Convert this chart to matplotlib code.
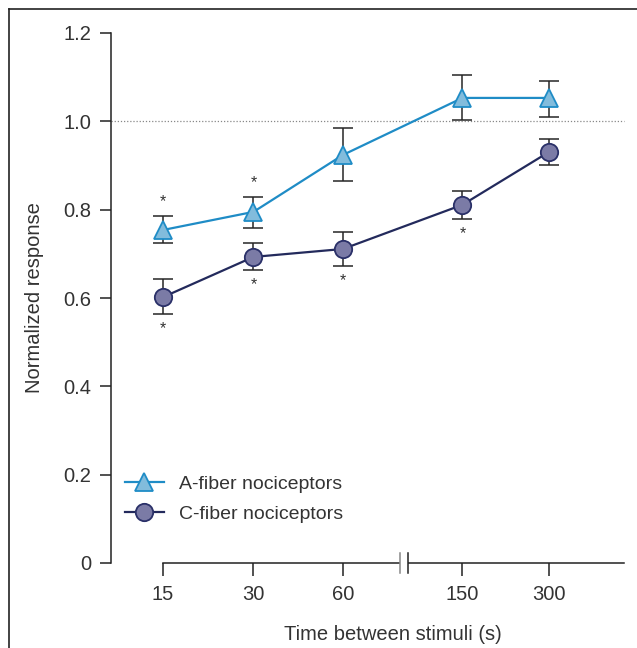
import numpy as np
import matplotlib
matplotlib.use('Agg')
import matplotlib.pyplot as plt
from matplotlib.lines import Line2D
from matplotlib.patches import Rectangle
import matplotlib.transforms as mtransforms

plt.rcParams['font.family'] = ['Liberation Sans', 'DejaVu Sans']

# ---- data ----
intervals = ['15', '30', '60', '150', '300']
a_mean = [0.754, 0.795, 0.924, 1.053, 1.053]
a_err_hi = [0.786, 0.829, 0.985, 1.105, 1.091]
a_err_lo = [0.725, 0.758, 0.865, 1.003, 1.010]
c_mean = [0.602, 0.693, 0.711, 0.811, 0.931]
c_err_hi = [0.643, 0.725, 0.749, 0.842, 0.960]
c_err_lo = [0.564, 0.663, 0.672, 0.779, 0.901]
a_signif = [True, True, False, False, False]   # asterisk above
c_signif = [True, True, True, True, False]     # asterisk below

# layout: x positions on a broken categorical axis
XPOS = [0, 1, 1.99, 3.31, 4.27]
BREAK = (2.62, 2.71)

A_LINE, A_FACE = '#1f8cc6', '#82bcdc'
C_LINE, C_FACE, C_EDGE = '#232a5c', '#7b7ba6', '#2a3068'
ERR = '#262626'
TXT = '#333333'

fig = plt.figure(figsize=(6.37, 6.48), dpi=100)
ax = fig.add_axes([111 / 637, 85 / 648, 526 / 637, 530 / 648])
ax.set_xlim(-0.575, 5.24)
ax.set_ylim(0, 1.2)

x = np.array(XPOS)
ax.axhline(1.0, xmin=0, xmax=(5.1 + 0.575) / (5.24 + 0.575),
           color='#888888', linestyle=(0, (1, 1.5)), linewidth=0.9, zorder=1)

for mean, hi, lo, line, face, edge, mk, lab in [
        (a_mean, a_err_hi, a_err_lo, A_LINE, A_FACE, A_LINE, '^', 'A-fiber nociceptors'),
        (c_mean, c_err_hi, c_err_lo, C_LINE, C_FACE, C_EDGE, 'o', 'C-fiber nociceptors')]:
    m = np.array(mean)
    yerr = [m - np.array(lo), np.array(hi) - m]
    ax.errorbar(x, m, yerr=yerr, fmt='none', ecolor=ERR, elinewidth=1.1,
                capsize=7, capthick=1.1, zorder=2)
    ax.plot(x, m, color=line, linewidth=1.6, marker=mk, markersize=12.5,
            markerfacecolor=face, markeredgecolor=edge, markeredgewidth=1.3,
            label=lab, zorder=3)

for xi, hi, s in zip(x, a_err_hi, a_signif):
    if s:
        ax.annotate('*', (xi, hi), xytext=(0, 5), textcoords='offset points',
                    ha='center', va='bottom', fontsize=11.5, color=TXT)
for xi, lo, s in zip(x, c_err_lo, c_signif):
    if s:
        ax.annotate('*', (xi, lo), xytext=(0, -5), textcoords='offset points',
                    ha='center', va='top', fontsize=11.5, color=TXT)

# axes styling
for side in ['top', 'right']:
    ax.spines[side].set_visible(False)
ax.spines['left'].set_bounds(0, 1.2)
ax.spines['bottom'].set_bounds(0, 5.1)
for side in ['left', 'bottom']:
    ax.spines[side].set_linewidth(1.1)
    ax.spines[side].set_color('#222222')

ax.set_yticks([0, 0.2, 0.4, 0.6, 0.8, 1.0, 1.2])
ax.set_yticklabels(['0', '0.2', '0.4', '0.6', '0.8', '1.0', '1.2'])
ax.set_xticks(x)
ax.set_xticklabels(intervals)
ax.tick_params(axis='both', direction='out', length=8, width=1.1,
               color='#222222', labelsize=14.5, labelcolor=TXT)
ax.tick_params(axis='x', length=9, pad=7)
ax.tick_params(axis='y', pad=6)

ax.set_xlabel('Time between stimuli (s)', fontsize=14.5, color=TXT)
ax.xaxis.set_label_coords((393 - 111) / 526, -62 / 530)
ax.set_ylabel('Normalized response', fontsize=14.5, color=TXT)
ax.yaxis.set_label_coords(-(111 - 44) / 526, (563 - 298) / 530)

# axis break
trans = mtransforms.blended_transform_factory(ax.transData, ax.transAxes)
ax.add_patch(Rectangle((BREAK[0], -0.01), BREAK[1] - BREAK[0], 0.02,
                       transform=trans, facecolor='white', edgecolor='none',
                       clip_on=False, zorder=5))
for bx, col in zip(BREAK, ['#888888', '#222222']):
    ax.add_line(Line2D([bx, bx], [-0.019, 0.019], transform=trans, color=col,
                       linewidth=1.1, clip_on=False, zorder=6))

ax.legend(loc='center left', bbox_to_anchor=(14 / 526, (563 - 499) / 530),
          frameon=False, fontsize=14, handlelength=2.0, handletextpad=0.8,
          labelspacing=0.65, borderpad=0, borderaxespad=0, labelcolor=TXT)

# outer frame
fig.add_artist(Line2D([8.5 / 637, 8.5 / 637], [0, 1 - 8.5 / 648],
                      transform=fig.transFigure, color='#222222', linewidth=1.2))
fig.add_artist(Line2D([8.5 / 637, 1], [1 - 8.5 / 648, 1 - 8.5 / 648],
                      transform=fig.transFigure, color='#222222', linewidth=1.2))

fig.savefig('out.png', dpi=100, facecolor='white')
